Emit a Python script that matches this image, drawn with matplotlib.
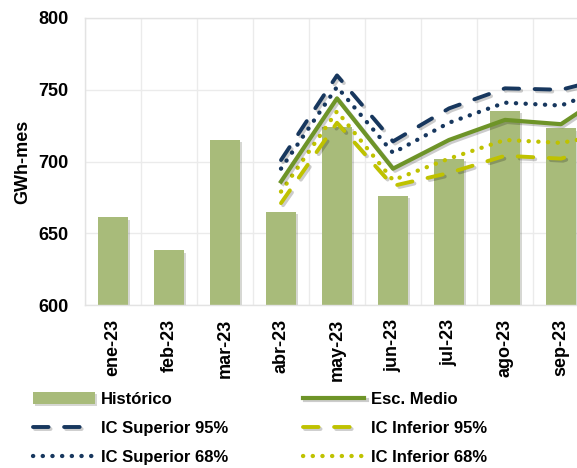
import matplotlib.pyplot as plt
import matplotlib.patheffects as pe
import numpy as np

plt.rcParams["font.family"] = ["Liberation Sans", "DejaVu Sans"]
plt.rcParams["font.weight"] = "bold"

months = ["ene-23", "feb-23", "mar-23", "abr-23", "may-23",
          "jun-23", "jul-23", "ago-23", "sep-23", "oct-23"]

historico = [661, 638, 715, 665, 724, 676, 702, 735, 723]

# forecast series start at abr-23 (index 3)
forecast_months = months[3:]
esc_medio = [686, 744, 695, 715, 729, 726, 752]
ic_sup_95 = [701, 760, 714, 737, 751, 750, 760]
ic_sup_68 = [695, 752, 706, 727, 741, 739, 754]
ic_inf_68 = [679, 735, 687, 702, 715, 713, 720]
ic_inf_95 = [671, 727, 683, 692, 704, 702, 714]

BAR_COLOR = "#A8BB7A"
GREEN = "#6E9428"
NAVY = "#17375E"
YELLOW = "#BFC200"

fig = plt.figure(figsize=(5.77, 4.68), dpi=100)

# the plot area runs past the right edge of the picture (oct-23 is cut)
ax = fig.add_axes([85 / 577, (468 - 305) / 468,
                   560 / 577, 287 / 468])

x = np.arange(len(months))
xf = np.arange(3, 3 + len(forecast_months))

shadow = [pe.SimplePatchShadow(offset=(1.5, -1.5), alpha=0.2), pe.Normal()]
lshadow = [pe.SimpleLineShadow(offset=(1.5, -1.5), alpha=0.2), pe.Normal()]

ax.bar(
    x[:len(historico)],
    historico,
    width=0.54,
    color=BAR_COLOR,
    label="Histórico",
    zorder=2,
    path_effects=shadow
)

ax.plot(xf, esc_medio, color=GREEN, lw=3,
        label="Esc. Medio", zorder=4, path_effects=lshadow)

ax.plot(xf, ic_sup_95, color=NAVY, lw=2.8,
        linestyle=(0, (4, 4)), dash_capstyle="round",
        label="IC Superior 95%", zorder=3, path_effects=lshadow)

ax.plot(xf, ic_inf_95, color=YELLOW, lw=2.8,
        linestyle=(0, (4, 4)), dash_capstyle="round",
        label="IC Inferior 95%", zorder=3, path_effects=lshadow)

ax.plot(xf, ic_sup_68, color=NAVY, lw=3.1,
        linestyle=(0, (0.05, 2.2)), dash_capstyle="round",
        label="IC Superior 68%", zorder=3)

ax.plot(xf, ic_inf_68, color=YELLOW, lw=3.1,
        linestyle=(0, (0.05, 2.2)), dash_capstyle="round",
        label="IC Inferior 68%", zorder=3)

ax.set_xlim(-0.5, len(months) - 0.5)
ax.set_ylim(600, 800)
ax.set_yticks([600, 650, 700, 750, 800])

# oct-23 falls outside the picture, so its label is left blank
tick_labels = months[:-1] + [""]
ax.set_xticks(x)
ax.set_xticklabels(tick_labels, rotation=90, fontsize=13, fontweight="bold")
ax.tick_params(axis="y", labelsize=13, pad=12, length=0)
ax.tick_params(axis="x", pad=10, length=0)

ax.set_xticks(np.arange(len(months) + 1) - 0.5, minor=True)
ax.tick_params(axis="x", which="minor", length=0)
ax.grid(axis="x", which="minor", color="#EBEBEB", lw=1, zorder=0)
ax.grid(axis="y", which="major", color="#EBEBEB", lw=1, zorder=0)
ax.set_axisbelow(True)

for s in ax.spines.values():
    s.set_color("#E3E3E3")
    s.set_linewidth(1)

ax.set_ylabel("GWh-mes", fontsize=13, fontweight="bold", labelpad=5)

handles, labels = ax.get_legend_handles_labels()
order = ["Histórico", "IC Superior 95%", "IC Superior 68%",
         "Esc. Medio", "IC Inferior 95%", "IC Inferior 68%"]
hmap = dict(zip(labels, handles))

fig.legend(
    [hmap[k] for k in order],
    order,
    ncol=2,
    loc="upper left",
    bbox_to_anchor=(18 / 577, 1 - 377 / 468),
    frameon=False,
    handlelength=3.7,
    handletextpad=0.4,
    columnspacing=4.45,
    labelspacing=0.84,
    prop={"weight": "bold", "size": 12}
)

fig.savefig("out.png", dpi=100)
